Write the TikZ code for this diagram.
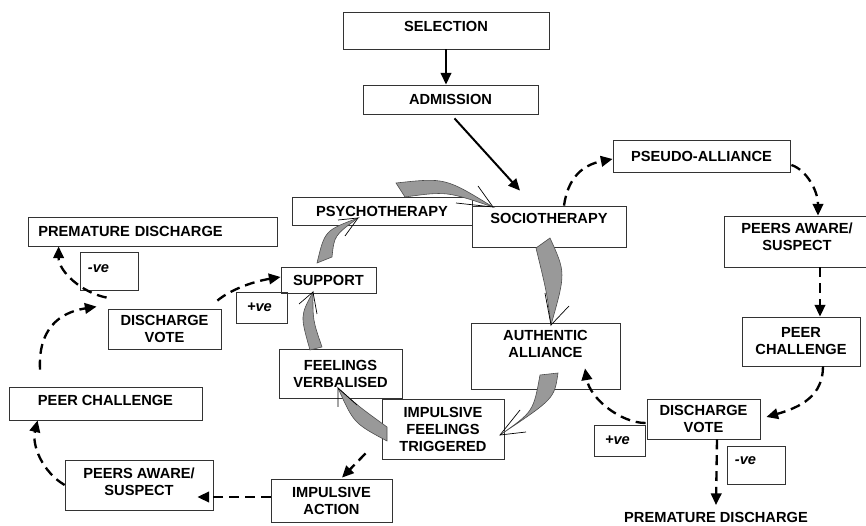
\documentclass[tikz,border=0pt]{standalone}
\usepackage{fontspec}
\setmainfont{Liberation Sans}
\usetikzlibrary{arrows.meta,calc}

\tikzset{
  wh/.style 2 args={minimum width=#1*0.3mm, minimum height=#2*0.3mm},
  box/.style={draw=black!80, line width=0.7pt, align=center, inner sep=2pt,
    font=\bfseries\fontsize{12.5}{14.5}\selectfont},
  sign/.style={box, align=left, font=\bfseries\itshape\fontsize{12.5}{14.5}\selectfont},
  tip/.style={-{Triangle[length=10pt,width=9pt]}},
  solidarrow/.style={tip, line width=1.7pt},
  dasharrow/.style={tip, line width=2pt, dash pattern=on 8.5pt off 5pt},
  cyclefill/.style={fill=black!40, draw=black!70, line width=0.5pt},
  barb/.style={black, line width=0.6pt}
}
% grey curved arrow: base, control, tip, control, base, barb, barb
\newcommand{\cyclearrow}[7]{%
  \draw[cyclefill] #1 .. controls #2 .. #3 .. controls #4 .. #5 -- cycle;
  \draw[barb] #6 -- #3 -- #7;}

\begin{document}
\begin{tikzpicture}[x=0.3mm, y=0.3mm]

        \useasboundingbox (0,0) rectangle (866,-526);

        %entry
        \node[box, wh={206}{37}, text depth=7.7pt] (sel) at (446,-30.5) {SELECTION};
        \node[box, wh={175}{29}] (adm) at (450.5,-99.5) {ADMISSION};

        %therapy cycle
        \node[box, wh={180}{28}] (psy) at (382,-211) {PSYCHOTHERAPY};
        \node[box, wh={154}{41}, text depth=14.5pt] (soc) at (549,-226.5) {SOCIOTHERAPY};
        \node[box, wh={149}{66}, text depth=20.5pt] (aut) at (545.5,-356) {AUTHENTIC\\ALLIANCE};
        \node[box, wh={122}{60}] (ift) at (443,-429) {IMPULSIVE\\FEELINGS\\TRIGGERED};
        \node[box, wh={123}{49}] (fv) at (340.5,-373.5) {FEELINGS\\VERBALISED};
        \node[box, wh={95}{26}] (sup) at (328.5,-280) {SUPPORT};

        %pseudo-alliance branch (right)
        \node[box, wh={177}{32}] (pse) at (701.5,-156) {PSEUDO-ALLIANCE};
        \node[box, wh={146}{51}, text depth=8.5pt] (peeR) at (797,-241.5) {PEERS AWARE/\\SUSPECT};
        \node[box, wh={118}{49}] (chalR) at (801,-341.5) {PEER\\CHALLENGE};
        \node[box, wh={113}{40}] (dvR) at (703.5,-419) {DISCHARGE\\VOTE};
        \node[sign, wh={51}{31}, text width=24.7pt, inner xsep=9.4pt] (posR) at (619.5,-440.5) {+ve};
        \node[sign, wh={58}{38}, text width=35.9pt, inner xsep=6.8pt, text depth=6.8pt] (negR) at (756,-465) {-ve};
        \node[font=\bfseries\fontsize{12.5}{14.5}\selectfont, inner ysep=6pt] (pdR) at (716,-517.5) {PREMATURE DISCHARGE};

        %impulsive action branch (left)
        \node[box, wh={121}{43}] (ia) at (331.5,-500.5) {IMPULSIVE\\ACTION};
        \node[box, wh={148}{50}, text depth=5pt] (peeL) at (139,-485) {PEERS AWARE/\\SUSPECT};
        \node[box, wh={193}{33}, text depth=6pt] (chalL) at (105.5,-403.5) {PEER CHALLENGE};
        \node[box, wh={113}{40}] (dvL) at (164.5,-329) {DISCHARGE\\VOTE};
        \node[sign, wh={58}{38}, text width=35.9pt, inner xsep=6.8pt, text depth=5pt] (negL) at (109,-271) {-ve};
        \node[sign, wh={51}{31}, text width=24.7pt, inner xsep=9.4pt] (posM) at (261.5,-307.5) {+ve};
        \node[box, wh={249}{29}, align=left, text width=195pt, inner xsep=8.5pt] (pdL) at (152.5,-231.5) {PREMATURE DISCHARGE};

        %admission arrows
        \draw[solidarrow] (sel.south) -- (sel.south |- adm.north);
        \draw[solidarrow] ($(adm.south)+(4,-4)$) -- ($(soc.north)+(-29,15)$);

        %grey cycle arrows
        \cyclearrow{(396,-183)}{(445.2,-177.7)}{(493,-207)}{(446.3,-191.3)}{(405,-197)}{(456,-203)}{(478,-186)} %psy to soc
        \cyclearrow{(550,-238)}{(565.8,-272.8)}{(551,-325)}{(546.8,-292.5)}{(536,-248)}{(545,-293)}{(569,-306)} %soc to aut
        \cyclearrow{(558,-373)}{(554.3,-398.7)}{(500,-435)}{(533.3,-411.7)}{(540,-375)}{(520,-410)}{(526,-432)} %aut to ift
        \cyclearrow{(387,-427)}{(359.2,-406.8)}{(338,-388)}{(353.8,-423.2)}{(387,-441)}{(338,-407)}{(357,-405)} %ift to fv
        \cyclearrow{(310,-350)}{(300.2,-315.7)}{(313,-292)}{(312.8,-320.2)}{(322,-347)}{(299,-304)}{(317,-314)} %fv to sup
        \cyclearrow{(317,-263)}{(324.8,-230.5)}{(358,-218)}{(334.3,-235.5)}{(332,-257)}{(338,-220)}{(345,-236)} %sup to psy

        %right dashed path
        \draw[dasharrow] ($(soc.north)+(15,0)$) .. controls +(4,28) and +(-30,-6) .. ($(pse.west)+(0,-3)$);
        \draw[dasharrow] ($(pse.east)+(1,-9)$) .. controls +(15,-5) and +(0,25) .. ($(peeR.north)+(21,0)$);
        \draw[dasharrow] ($(peeR.south)+(23,0)$) -- ($(chalR.north)+(19,0)$);
        \draw[dasharrow] ($(chalR.south)+(22,0)$) .. controls +(0,-29) and +(35,10) .. ($(dvR.east)+(6,2)$);
        \draw[dasharrow] ($(dvR.west)+(-1,-4)$) .. controls +(-25,0) and +(5,-30) .. ($(aut.south)+(39.5,21)$);
        \draw[dasharrow] ($(dvR.south)+(13.5,0)$) -- (pdR.north);

        %left dashed path
        \draw[dasharrow] ($(ift.south west)+(-16,6)$) -- ($(ia.north)+(10.5,1)$);
        \draw[dasharrow] ($(ia.west)+(0,3.5)$) -- ($(peeL.east)+(-16,-12)$);
        \draw[dasharrow] (peeL.west) .. controls +(-22,13) and +(-6,-25) .. ($(chalL.south west)+(29,0)$);
        \draw[dasharrow] ($(chalL.north)+(-65.5,17)$) .. controls +(-2,40) and +(-38,-6) .. ($(dvL.north west)+(-11,2)$);
        \draw[dasharrow] ($(dvL.north west)+(-1,11)$) .. controls +(-25,5) and +(0,-25) .. ($(pdL.south west)+(31,0)$);
        \draw[dasharrow] ($(dvL.north east)+(-4,8)$) .. controls +(12,10) and +(-30,-5) .. ($(sup.west)+(0,3)$);

\end{tikzpicture}
\end{document}
